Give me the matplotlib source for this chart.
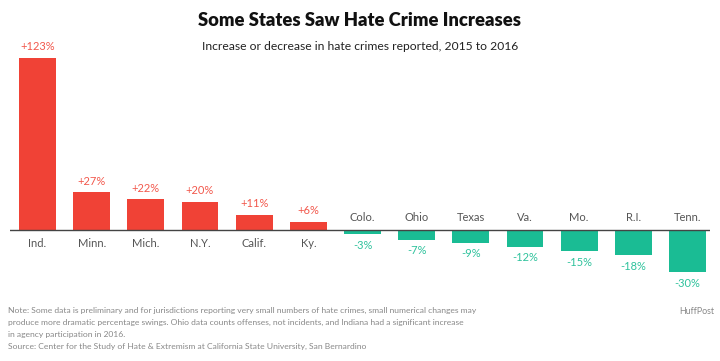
import matplotlib.pyplot as plt

states = ['Ind.', 'Minn.', 'Mich.', 'N.Y.', 'Calif.', 'Ky.', 'Colo.', 'Ohio',
          'Texas', 'Va.', 'Mo.', 'R.I.', 'Tenn.']
changes = [123, 27, 22, 20, 11, 6, -3, -7, -9, -12, -15, -18, -30]

RED = '#F04236'
TEAL = '#1ABC94'
RED_TXT = '#F2584C'
TEAL_TXT = '#2EC29C'

plt.rcParams['font.family'] = ['Lato', 'DejaVu Sans']

fig = plt.figure(figsize=(7.2, 3.61), dpi=100)
ax = fig.add_axes([10 / 720, 1 - 293 / 361, 700 / 720, 252 / 361])

x = list(range(len(states)))
colors = [RED if v > 0 else TEAL for v in changes]
ax.bar(x, changes, width=0.68, color=colors, zorder=2)
ax.axhline(0, color='#444444', lw=1.0, zorder=3)

for i, (s, v) in enumerate(zip(states, changes)):
    if v > 0:
        ax.annotate(f'+{v}%', (i, v), xytext=(0, 4), textcoords='offset points',
                    ha='center', va='bottom', color=RED_TXT, fontsize=8)
        ax.annotate(s, (i, 0), xytext=(0, -6), textcoords='offset points',
                    ha='center', va='top', color='#555555', fontsize=8)
    else:
        ax.annotate(f'{v}%', (i, v), xytext=(0, -4), textcoords='offset points',
                    ha='center', va='top', color=TEAL_TXT, fontsize=8)
        ax.annotate(s, (i, 0), xytext=(0, 5), textcoords='offset points',
                    ha='center', va='bottom', color='#555555', fontsize=8)

ax.set_xlim(-0.507, 12.415)
ax.set_ylim(-45, 135)
ax.axis('off')

fig.text(0.5, 1 - 20 / 361, 'Some States Saw Hate Crime Increases', ha='center',
         va='center', fontsize=13.2, fontweight='heavy', color='#111111')
fig.text(0.5, 1 - 46 / 361, 'Increase or decrease in hate crimes reported, 2015 to 2016',
         ha='center', va='center', fontsize=8.7, color='#222222')

note = ('Note: Some data is preliminary and for jurisdictions reporting very small numbers of hate crimes, small numerical changes may\n'
        'produce more dramatic percentage swings. Ohio data counts offenses, not incidents, and Indiana had a significant increase\n'
        'in agency participation in 2016.\n'
        'Source: Center for the Study of Hate & Extremism at California State University, San Bernardino')
fig.text(8 / 720, 1 - 307 / 361, note, ha='left', va='top', fontsize=6.1,
         color='#888888', linespacing=1.85)
fig.text(714 / 720, 1 - 311 / 361, 'HuffPost', ha='right', va='center',
         fontsize=6.4, color='#888888')

fig.savefig('out.png', dpi=100)
